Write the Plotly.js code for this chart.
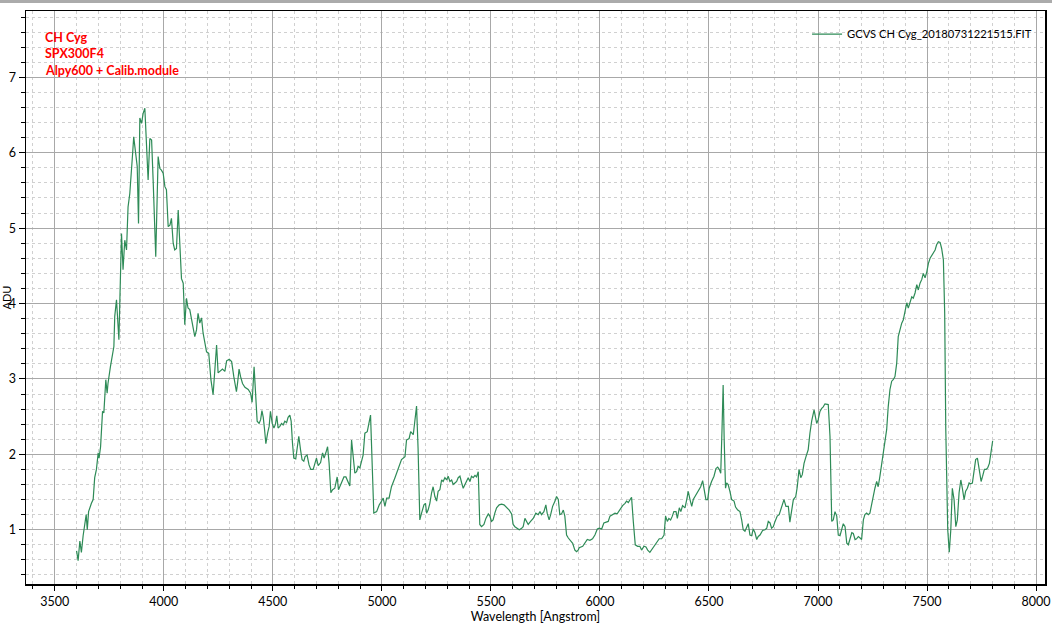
<!DOCTYPE html>
<html>
<head>
<meta charset="utf-8">
<script src="https://cdn.plot.ly/plotly-3.0.1.min.js"></script>
<style>html,body{margin:0;padding:0;background:#fff;}#chart{width:1052px;height:631px;}</style>
</head>
<body>
<div id="chart"></div>
<script>
// Wavelength in Angstrom
const wavelength = [3600,3607,3615,3622,3630,3638,3644,3649,3655,3668,3676,3683,3691,3699,3703,3710,3719,3725,3734,3740,3744,3755,3765,3771,3775,3783,3794,3798,3806,3813,3821,3829,3836,3844,3852,3856,3862,3872,3878,3884,3890,3898,3905,3913,3921,3928,3936,3944,3951,3963,3974,3982,3989,3997,4005,4012,4020,4028,4035,4043,4050,4058,4066,4073,4081,4089,4096,4104,4111,4119,4127,4142,4150,4157,4165,4173,4180,4188,4196,4206,4216,4226,4234,4242,4249,4257,4269,4280,4288,4300,4311,4321,4333,4338,4345,4352,4361,4372,4387,4398,4405,4414,4422,4428,4437,4444,4450,4456,4462,4468,4476,4483,4489,4497,4505,4512,4518,4524,4532,4540,4547,4555,4563,4570,4578,4584,4590,4596,4605,4611,4619,4627,4634,4642,4648,4657,4666,4674,4685,4693,4700,4708,4719,4728,4735,4743,4751,4758,4766,4774,4784,4795,4801,4807,4818,4826,4835,4845,4853,4861,4868,4876,4884,4891,4899,4914,4922,4933,4948,4957,4963,4976,4988,4999,5006,5014,5022,5033,5044,5060,5075,5090,5106,5113,5125,5132,5144,5151,5159,5166,5174,5182,5193,5200,5205,5212,5220,5228,5235,5243,5251,5258,5266,5274,5281,5289,5297,5304,5312,5320,5327,5335,5343,5350,5358,5366,5373,5381,5388,5396,5404,5411,5419,5427,5434,5442,5449,5457,5468,5477,5488,5495,5503,5510,5518,5526,5538,5549,5560,5572,5584,5595,5602,5610,5621,5630,5641,5648,5656,5664,5671,5682,5694,5706,5717,5725,5732,5743,5752,5758,5767,5774,5783,5794,5801,5809,5816,5824,5832,5839,5847,5855,5866,5875,5885,5893,5900,5905,5921,5931,5942,5954,5966,5977,5988,5997,6008,6018,6031,6038,6046,6058,6069,6079,6092,6104,6115,6122,6130,6138,6145,6153,6162,6173,6183,6191,6202,6211,6219,6229,6242,6252,6263,6272,6283,6294,6301,6309,6316,6324,6332,6339,6349,6355,6364,6371,6379,6390,6398,6405,6413,6421,6428,6440,6451,6462,6471,6478,6486,6494,6501,6512,6523,6532,6540,6547,6554,6560,6565,6570,6576,6581,6588,6596,6604,6615,6622,6632,6642,6650,6657,6665,6673,6680,6688,6696,6703,6711,6719,6726,6734,6746,6757,6765,6772,6780,6787,6795,6803,6813,6822,6833,6844,6853,6864,6871,6879,6887,6898,6905,6913,6921,6928,6936,6945,6955,6963,6971,6982,6986,6994,7001,7009,7017,7024,7032,7040,7047,7055,7063,7070,7078,7086,7093,7101,7109,7116,7124,7132,7139,7147,7155,7162,7170,7177,7185,7193,7200,7208,7215,7223,7231,7238,7246,7254,7261,7269,7276,7284,7292,7299,7307,7315,7322,7330,7338,7345,7353,7361,7368,7376,7384,7391,7399,7407,7414,7422,7430,7437,7445,7453,7460,7468,7476,7483,7491,7499,7506,7514,7521,7529,7537,7544,7552,7560,7567,7575,7581,7586,7590,7595,7602,7609,7616,7624,7632,7639,7647,7655,7662,7670,7677,7685,7693,7700,7708,7716,7723,7731,7738,7748,7755,7763,7771,7778,7786,7794,7801];
// Flux in ADU
const adu = [0.72,0.59,0.85,0.70,0.92,1.05,1.20,1.00,1.24,1.35,1.40,1.69,1.80,2.02,1.95,2.10,2.57,2.55,2.99,2.81,2.94,3.16,3.30,3.43,3.83,4.05,3.52,4.18,4.93,4.45,4.84,4.71,5.28,5.46,5.73,5.95,6.21,5.99,5.82,5.06,6.46,6.39,6.52,6.59,6.08,5.64,6.19,6.17,5.64,4.62,5.95,5.79,5.77,5.73,5.55,5.51,5.02,5.04,5.13,4.80,4.71,4.73,5.24,4.75,4.33,4.27,3.72,4.07,3.94,3.92,3.78,3.56,3.65,3.87,3.74,3.81,3.61,3.47,3.36,3.34,2.99,2.79,3.12,3.45,3.08,3.10,3.13,3.10,3.24,3.26,3.23,3.03,2.83,2.94,3.13,3.03,2.94,2.89,2.86,2.81,2.69,3.16,2.77,2.44,2.41,2.46,2.58,2.49,2.33,2.14,2.28,2.37,2.57,2.41,2.35,2.40,2.51,2.35,2.37,2.41,2.39,2.44,2.42,2.49,2.52,2.44,2.15,1.95,1.94,2.06,2.24,2.06,1.93,1.91,1.97,1.99,1.86,1.80,1.80,1.88,1.95,1.85,1.89,2.02,1.95,2.02,2.10,1.88,1.49,1.53,1.55,1.70,1.53,1.57,1.64,1.70,1.70,1.64,1.58,2.19,1.97,1.75,1.77,1.84,1.82,1.99,2.28,2.30,2.52,1.84,1.22,1.24,1.33,1.38,1.42,1.31,1.42,1.42,1.57,1.69,1.82,1.93,1.97,2.19,2.21,2.30,2.26,2.41,2.64,2.08,1.13,1.22,1.33,1.35,1.22,1.26,1.35,1.49,1.57,1.44,1.38,1.51,1.53,1.66,1.64,1.69,1.66,1.71,1.64,1.66,1.60,1.62,1.64,1.69,1.71,1.62,1.55,1.60,1.64,1.69,1.64,1.71,1.69,1.72,1.70,1.77,1.07,1.04,1.07,1.15,1.21,1.18,1.11,1.13,1.22,1.29,1.33,1.34,1.33,1.30,1.26,1.21,1.07,1.04,1.02,1.00,1.02,1.04,1.15,1.11,1.07,1.11,1.15,1.22,1.20,1.24,1.20,1.24,1.33,1.22,1.13,1.20,1.31,1.38,1.44,1.40,1.20,1.21,1.26,1.18,0.93,0.89,0.85,0.82,0.73,0.71,0.73,0.76,0.78,0.82,0.87,0.86,0.88,0.93,1.01,1.02,1.01,1.09,1.11,1.11,1.18,1.20,1.22,1.21,1.27,1.32,1.35,1.38,1.36,1.40,1.43,1.11,0.80,0.78,0.78,0.73,0.78,0.77,0.73,0.70,0.76,0.80,0.85,0.88,0.88,0.93,1.18,1.11,1.15,1.13,1.18,1.24,1.24,1.15,1.29,1.24,1.32,1.29,1.40,1.51,1.40,1.31,1.40,1.46,1.50,1.57,1.65,1.53,1.40,1.40,1.55,1.64,1.71,1.81,1.83,1.80,1.75,2.35,2.92,2.17,1.55,1.62,1.60,1.51,1.40,1.38,1.30,1.26,1.24,1.13,1.00,0.98,1.04,1.08,0.93,0.92,1.01,0.96,0.87,0.91,0.93,0.99,1.00,1.02,1.11,1.09,1.02,1.04,1.11,1.18,1.20,1.31,1.40,1.31,1.31,1.10,1.27,1.40,1.44,1.57,1.80,1.69,1.73,1.88,1.97,2.06,2.28,2.44,2.59,2.52,2.41,2.46,2.57,2.61,2.63,2.67,2.66,2.66,2.24,1.11,1.13,1.24,1.18,0.93,0.92,1.00,1.08,1.04,0.82,0.80,0.87,0.96,0.95,0.87,0.88,0.91,0.89,0.87,1.13,1.20,1.22,1.20,1.22,1.35,1.44,1.55,1.64,1.57,1.71,1.88,2.02,2.19,2.33,2.63,2.86,2.97,2.99,3.03,3.21,3.56,3.67,3.74,3.78,3.89,4.01,3.94,4.03,4.09,4.07,4.14,4.25,4.18,4.27,4.32,4.40,4.34,4.42,4.53,4.60,4.63,4.67,4.71,4.78,4.82,4.81,4.73,4.58,3.87,2.33,1.44,1.00,0.70,1.00,1.55,1.40,1.04,1.13,1.49,1.66,1.55,1.40,1.51,1.55,1.62,1.61,1.62,1.80,1.93,1.95,1.80,1.64,1.71,1.80,1.80,1.82,1.88,2.04,2.18];

const seriesName = 'GCVS CH Cyg_20180731221515.FIT';
const infoLines = ['CH Cyg', 'SPX300F4', 'Alpy600 + Calib.module'];
const xTitle = 'Wavelength [Angstrom]';
const yTitle = 'ADU';

const FONT = 'Lato, "Noto Sans", sans-serif';

const trace = {
  x: wavelength, y: adu, type: 'scatter', mode: 'lines', name: seriesName,
  line: {color: 'rgb(46,139,87)', width: 1.2},
  showlegend: true
};

const infoY = [0.9529, 0.925, 0.8953];
const annotations = infoLines.map((t, i) => ({
  text: '<b>' + t + '</b>', xref: 'paper', yref: 'paper', x: 0.0166, y: infoY[i],
  xanchor: 'left', yanchor: 'middle', showarrow: false,
  font: {color: '#ff0000', size: 12.5, family: FONT}
}));
// y-axis title, placed at the far left edge as in the reference
annotations.push({
  text: yTitle, xref: 'paper', yref: 'paper', x: -0.0196, y: 0.5,
  xanchor: 'center', yanchor: 'middle', textangle: -90, showarrow: false,
  font: {color: '#000', size: 11, family: FONT}
});

const axisCommon = {
  showline: true, linecolor: '#000', linewidth: 1.5, mirror: true,
  ticks: 'outside', tickcolor: '#000', tickwidth: 1,
  showgrid: true, gridcolor: '#a8a8a8', gridwidth: 1, zeroline: false,
  tickfont: {size: 12.5, color: '#000', family: FONT}
};

const layout = {
  width: 1052, height: 631,
  margin: {l: 26, r: 7, t: 11, b: 47, pad: 0, autoexpand: false},
  paper_bgcolor: '#fff', plot_bgcolor: '#fff',
  font: {family: FONT, size: 12, color: '#000'},
  showlegend: true,
  legend: {x: 0.7665, xanchor: 'left', y: 0.985, yanchor: 'top', bgcolor: 'rgba(0,0,0,0)', font: {size: 11.2, color: '#000', family: FONT}},
  xaxis: Object.assign({}, axisCommon, {
    range: [3368, 8041], tick0: 0, dtick: 500, ticklen: 5,
    minor: {dtick: 100, tick0: 0, ticks: 'outside', ticklen: 3, tickcolor: '#000', showgrid: true, gridcolor: '#d0d0d0', griddash: 'dot', gridwidth: 1},
    title: {text: xTitle, font: {size: 12.5, family: FONT}, standoff: 3}
  }),
  yaxis: Object.assign({}, axisCommon, {
    range: [0.28, 7.88], tick0: 0, dtick: 1, ticklen: 6,
    minor: {dtick: 0.2, tick0: 0, ticks: 'outside', ticklen: 4, tickcolor: '#000', showgrid: true, gridcolor: '#d0d0d0', griddash: 'dot', gridwidth: 1}
  }),
  annotations: annotations,
  shapes: [{type: 'rect', xref: 'paper', yref: 'paper', x0: -0.03, x1: 1.01, y0: 1.0139, y1: 1.03, fillcolor: '#ababab', line: {width: 0}, layer: 'above'}]
};

Plotly.newPlot('chart', [trace], layout, {displayModeBar: false, staticPlot: true});
</script>
</body>
</html>
